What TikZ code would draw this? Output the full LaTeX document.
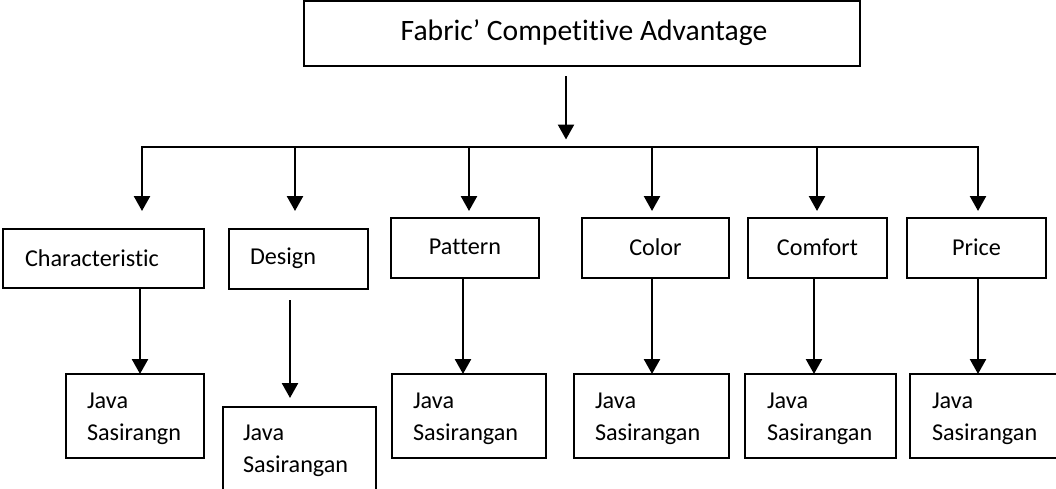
\documentclass[tikz,border=0pt]{standalone}
\usepackage{fontspec}
\setmainfont{Carlito}[Ligatures=NoCommon]
\usetikzlibrary{arrows.meta}
\tikzset{
  box/.style={draw=black, line width=2.5pt, rectangle, inner sep=0pt, outer sep=0pt, fill=white},
  lbl/.style={inner sep=0pt, outer sep=0pt, font=\fontsize{24.2}{32}\selectfont, align=left, anchor=west},
  clbl/.style={inner sep=0pt, outer sep=0pt, font=\fontsize{24.2}{32}\selectfont, align=center},
  conn/.style={line width=2.5pt, -{Triangle[width=16pt,length=15pt]}},
  bus/.style={line width=2.5pt},
}
\begin{document}
\begin{tikzpicture}[x=1pt,y=-1pt]
\useasboundingbox (0,0) rectangle (1056,488);
\fill[white] (0,0) rectangle (1056,488);
\begin{scope}
\clip (0,0) rectangle (1056,488);
% top box
\node[box, minimum width=556pt, minimum height=65pt] (top) at (582,33.5) {};
\node[clbl, font=\fontsize{29.6}{35}\selectfont] (toptxt) at (584,33) {Fabric’ Competitive Advantage};
% second-level boxes
\node[box, minimum width=201pt, minimum height=59pt] (char) at (103.5,258.5) {};
\node[lbl] (chartxt) at (25,258) {Characteristic};
\node[box, minimum width=139pt, minimum height=60pt] (design) at (298.5,259) {};
\node[lbl] (designtxt) at (250,258) {Design};
\node[box, minimum width=148pt, minimum height=60pt] (pattern) at (465,248) {};
\node[clbl] (patterntxt) at (465,247) {Pattern};
\node[box, minimum width=147pt, minimum height=60pt] (color) at (655.5,248) {};
\node[clbl] (colortxt) at (655.5,247) {Color};
\node[box, minimum width=139pt, minimum height=60pt] (comfort) at (817.5,248) {};
\node[clbl] (comforttxt) at (817.5,247) {Comfort};
\node[box, minimum width=139pt, minimum height=60pt] (price) at (976.5,248) {};
\node[clbl] (pricetxt) at (976.5,247) {Price};
% third-level boxes
\node[box, minimum width=138pt, minimum height=84pt] (js1) at (135,416) {};
\node[lbl] (js1txt) at (87,419) {Java\\Sasirangn};
\node[box, minimum width=153pt, minimum height=86pt] (js2) at (299.5,450) {};
\node[lbl] (js2txt) at (243,451) {Java\\Sasirangan};
\node[box, minimum width=154pt, minimum height=84pt] (js3) at (469,416) {};
\node[lbl] (js3txt) at (413,419) {Java\\Sasirangan};
\node[box, minimum width=155pt, minimum height=84pt] (js4) at (651.5,416) {};
\node[lbl] (js4txt) at (595,419) {Java\\Sasirangan};
\node[box, minimum width=151pt, minimum height=84pt] (js5) at (820.5,416) {};
\node[lbl] (js5txt) at (767,419) {Java\\Sasirangan};
\node[box, minimum width=152pt, minimum height=84pt] (js6) at (986,416) {};
\node[lbl] (js6txt) at (932,419) {Java\\Sasirangan};
\end{scope}
% connector coordinates
\coordinate (a0) at (566,76);
\coordinate (a1) at (566,139.5);
\coordinate (bl) at (141,147);
\coordinate (br) at (979,147);
\coordinate (b1) at (142,147); \coordinate (t1) at (142,211);
\coordinate (b2) at (295,147); \coordinate (t2) at (295,211);
\coordinate (b3) at (469,147); \coordinate (t3) at (469,211);
\coordinate (b4) at (652,147); \coordinate (t4) at (652,211);
\coordinate (b5) at (817,147); \coordinate (t5) at (817,211);
\coordinate (b6) at (978,147); \coordinate (t6) at (978,211);
\coordinate (d2s) at (290,300);
\coordinate (d2e) at (290,398);
\coordinate (x1) at (140,0);
\coordinate (x3) at (463,0);
\coordinate (x4) at (652,0);
\coordinate (x5) at (814,0);
\coordinate (x6) at (978,0);
\draw[conn] (a0) -- (a1);
\draw[bus] (bl) -- (br);
\draw[conn] (b1) -- (t1);
\draw[conn] (b2) -- (t2);
\draw[conn] (b3) -- (t3);
\draw[conn] (b4) -- (t4);
\draw[conn] (b5) -- (t5);
\draw[conn] (b6) -- (t6);
\draw[conn] (char.south -| x1) -- (js1.north -| x1);
\draw[conn] (d2s) -- (d2e);
\draw[conn] (pattern.south -| x3) -- (js3.north -| x3);
\draw[conn] (color.south -| x4) -- (js4.north -| x4);
\draw[conn] (comfort.south -| x5) -- (js5.north -| x5);
\draw[conn] (price.south -| x6) -- (js6.north -| x6);
\end{tikzpicture}
\end{document}
